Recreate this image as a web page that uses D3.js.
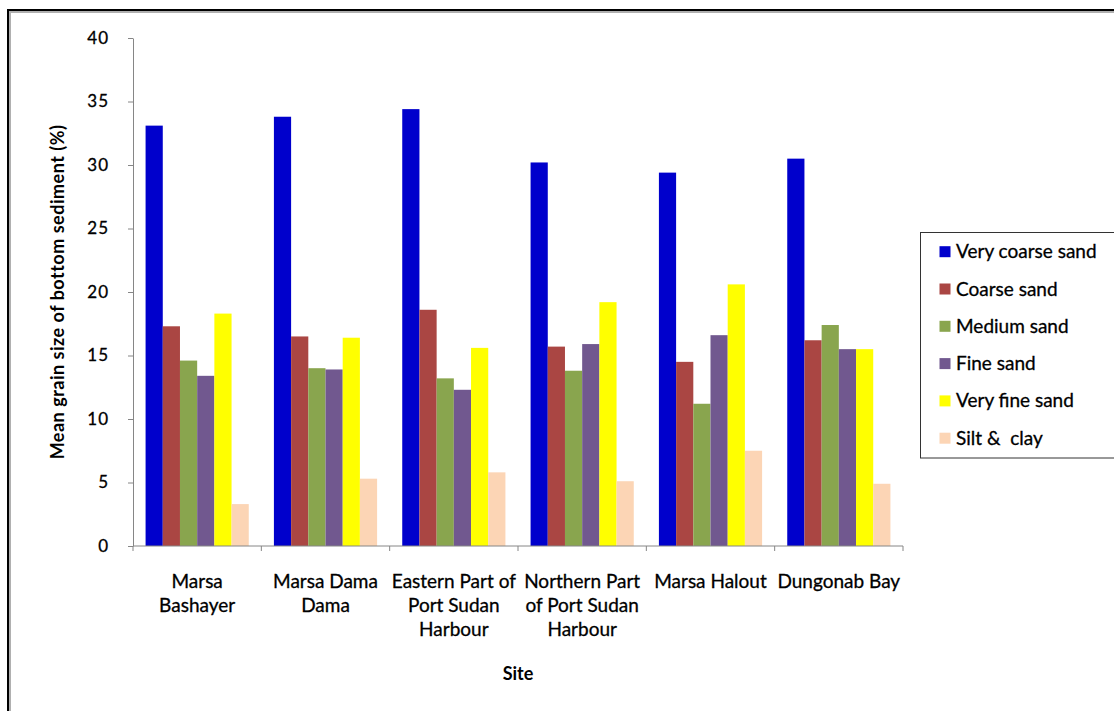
<!DOCTYPE html>
<html>
<head>
<meta charset="utf-8">
<script src="https://cdn.jsdelivr.net/npm/d3@7"></script>
<style>
  html, body { margin: 0; padding: 0; background: #fff; }
  svg { display: block; }
  text { font-family: Lato, "Open Sans", sans-serif; fill: #000; }
  .heavy { stroke: #000; stroke-width: 0.3px; }
</style>
</head>
<body>
<svg id="chart" width="1114" height="711"></svg>
<script>
// Sampling sites along the Red Sea coast
const sites = [
  "Marsa Bashayer",
  "Marsa Dama Dama",
  "Eastern Part of Port Sudan Harbour",
  "Northern Part of Port Sudan Harbour",
  "Marsa Halout",
  "Dungonab Bay"
];
// Category labels as they wrap under each group
const siteLines = [
  ["Marsa", "Bashayer"],
  ["Marsa Dama", "Dama"],
  ["Eastern Part of", "Port Sudan", "Harbour"],
  ["Northern Part", "of Port Sudan", "Harbour"],
  ["Marsa Halout"],
  ["Dungonab Bay"]
];

// Grain-size fractions (%), one array per fraction, in site order
const fractions = ["Very coarse sand", "Coarse sand", "Medium sand", "Fine sand", "Very fine sand", "Silt &  clay"];
const veryCoarseSand = [33.1, 33.8, 34.4, 30.2, 29.4, 30.5];
const coarseSand     = [17.3, 16.5, 18.6, 15.7, 14.5, 16.2];
const mediumSand     = [14.6, 14.0, 13.2, 13.8, 11.2, 17.4];
const fineSand       = [13.4, 13.9, 12.3, 15.9, 16.6, 15.5];
const veryFineSand   = [18.3, 16.4, 15.6, 19.2, 20.6, 15.5];
const siltClay       = [3.3, 5.3, 5.8, 5.1, 7.5, 4.9];
const seriesValues = [veryCoarseSand, coarseSand, mediumSand, fineSand, veryFineSand, siltClay];
const colors = ["#0000CC", "#AA4643", "#89A54E", "#71588F", "#FFFF00", "#FCD5B5"];

const yTicks = [0, 5, 10, 15, 20, 25, 30, 35, 40];

const svg = d3.select("#chart");

// Outer frame (top and left edges)
svg.append("path").attr("d", "M8,711V10H1114").attr("fill", "none")
  .attr("stroke", "#000").attr("stroke-width", 2);
svg.append("path").attr("d", "M10,711V12H1114").attr("fill", "none")
  .attr("stroke", "#b0b0b0").attr("stroke-width", 2);

const plot = { left: 133, right: 903, top: 38, bottom: 546 };

const x0 = d3.scaleBand().domain(sites).range([plot.left, plot.right]).padding(0);
const bw = x0.bandwidth();
const inset = bw * 0.098;
const x1 = d3.scaleBand().domain(fractions).range([inset, bw - inset]).padding(0);
const y = d3.scaleLinear().domain([0, 40]).range([plot.bottom, plot.top]);

// Bars
const groups = svg.append("g").selectAll("g").data(sites).join("g")
  .attr("transform", d => `translate(${x0(d)},0)`);
groups.selectAll("rect")
  .data((d, i) => fractions.map((f, k) => ({ f, k, v: seriesValues[k][i] })))
  .join("rect")
  .attr("x", d => x1(d.f))
  .attr("width", x1.bandwidth())
  .attr("y", d => y(d.v))
  .attr("height", d => y(0) - y(d.v))
  .attr("fill", d => colors[d.k]);

// Y axis
const yAxis = svg.append("g").attr("transform", `translate(${plot.left},0)`)
  .call(d3.axisLeft(y).tickValues(yTicks).tickSize(5).tickPadding(19).tickSizeOuter(0));
yAxis.select(".domain").attr("stroke", "#868686");
yAxis.selectAll(".tick line").attr("stroke", "#868686");
yAxis.selectAll(".tick text").attr("font-size", 17).attr("font-family", "Lato, sans-serif")
  .attr("fill", "#000").attr("letter-spacing", "1px").attr("class", "heavy");

// X axis with ticks on group boundaries
const xAxis = svg.append("g").attr("transform", `translate(0,${plot.bottom})`);
xAxis.append("line").attr("x1", plot.left).attr("x2", plot.right)
  .attr("stroke", "#868686");
const bounds = sites.map(s => x0(s)).concat([plot.right]);
xAxis.selectAll("line.tk").data(bounds).join("line").attr("class", "tk")
  .attr("x1", d => d).attr("x2", d => d).attr("y1", 0).attr("y2", 5)
  .attr("stroke", "#868686");

// Category labels
const labels = svg.append("g").selectAll("text").data(sites).join("text")
  .attr("class", "heavy")
  .attr("text-anchor", "middle")
  .attr("font-size", 19)
  .attr("x", d => x0(d) + bw / 2)
  .attr("y", 588);
labels.selectAll("tspan").data((d, i) => siteLines[i]).join("tspan")
  .attr("x", function () { return this.parentNode.getAttribute("x"); })
  .attr("dy", (d, j) => j === 0 ? 0 : 24)
  .text(d => d);

// Axis titles
svg.append("text").attr("x", (plot.left + plot.right) / 2).attr("y", 680)
  .attr("text-anchor", "middle").attr("font-weight", "bold").attr("font-size", 18)
  .text("Site");
svg.append("text")
  .attr("transform", `translate(64,${(plot.top + plot.bottom) / 2}) rotate(-90)`)
  .attr("text-anchor", "middle").attr("font-weight", "bold").attr("font-size", 18)
  .attr("letter-spacing", "0.5px")
  .text("Mean grain size of bottom sediment (%)");

// Legend
const legend = svg.append("g");
legend.append("rect").attr("x", 920.5).attr("y", 232.5).attr("width", 210).attr("height", 225.5)
  .attr("fill", "#fff").attr("stroke", "#333").attr("stroke-width", 1);
const items = legend.selectAll("g.item").data(fractions).join("g").attr("class", "item")
  .attr("transform", (d, i) => `translate(0,${251.7 + i * 37.3})`);
items.append("rect").attr("x", 939.5).attr("y", -5.5).attr("width", 11).attr("height", 11)
  .attr("fill", (d, i) => colors[i]);
items.append("text").attr("class", "heavy").attr("x", 956).attr("y", 6.5).attr("font-size", 19)
  .attr("xml:space", "preserve").style("white-space", "pre")
  .text(d => d);
</script>
</body>
</html>
